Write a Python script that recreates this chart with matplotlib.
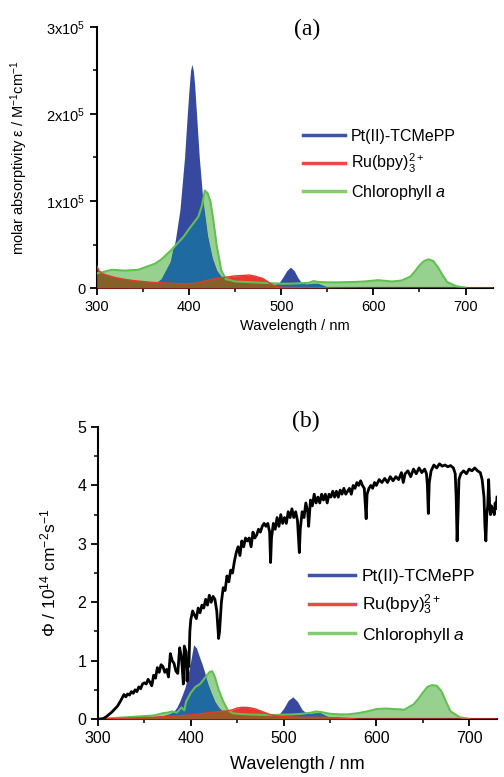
import matplotlib
matplotlib.use("Agg")
import matplotlib.pyplot as plt
from matplotlib.lines import Line2D
from matplotlib.ticker import MultipleLocator

plt.rcParams['font.family'] = ['Liberation Sans', 'DejaVu Sans']
plt.rcParams['mathtext.fontset'] = 'custom'
plt.rcParams['mathtext.rm'] = 'Liberation Sans'
plt.rcParams['mathtext.it'] = 'Liberation Sans:italic'
plt.rcParams['mathtext.default'] = 'regular'

# ---- panel (a): molar absorptivity, in units of 1e5 M^-1 cm^-1 ----
wl_pt_a = [300, 340, 360, 370, 380, 385, 390, 395, 398, 400, 401.5, 403, 404.5, 406, 408, 411,
           415, 420, 425, 430, 440, 450, 470, 490, 497, 502, 506, 510, 514, 518, 522, 527,
           535, 540, 545, 550, 560, 700]
pt_a = [0, 0, 0.02, 0.1, 0.3, 0.55, 0.9, 1.5, 2.0, 2.3, 2.5, 2.57, 2.5, 2.33, 2.0, 1.5,
        1.0, 0.6, 0.35, 0.2, 0.06, 0.03, 0.02, 0.02, 0.05, 0.13, 0.2, 0.24, 0.2, 0.12, 0.06, 0.04,
        0.05, 0.05, 0.03, 0.01, 0, 0]

wl_chl_a = [300, 305, 316, 330, 345, 350, 363, 370, 381, 394, 400, 405, 410, 414, 417, 420,
            423, 426, 430, 435, 440, 445, 450, 460, 470, 480, 490, 500, 510, 520, 530, 535,
            540, 550, 560, 580, 590, 600, 605, 610, 620, 630, 640, 645, 650, 655, 660, 665,
            670, 675, 680, 690, 700]
chl_a = [0.17, 0.18, 0.21, 0.2, 0.21, 0.23, 0.28, 0.33, 0.44, 0.59, 0.68, 0.75, 0.82, 0.95, 1.12, 1.09,
         1.0, 0.8, 0.48, 0.2, 0.1, 0.09, 0.075, 0.07, 0.065, 0.06, 0.055, 0.05, 0.05, 0.055, 0.06, 0.08,
         0.07, 0.065, 0.065, 0.07, 0.075, 0.085, 0.09, 0.085, 0.075, 0.085, 0.13, 0.19, 0.26, 0.31, 0.33, 0.31,
         0.24, 0.15, 0.07, 0.02, 0.005]

wl_ru_a = [300, 302, 305, 310, 320, 330, 340, 350, 360, 370, 380, 390, 400, 410, 420, 430,
           440, 450, 460, 465, 470, 480, 490, 495, 500, 510, 520, 540, 560, 580, 600, 730]
ru_a = [0.25, 0.2, 0.17, 0.15, 0.12, 0.1, 0.085, 0.075, 0.065, 0.06, 0.055, 0.05, 0.05, 0.06, 0.09, 0.11,
        0.125, 0.14, 0.145, 0.15, 0.14, 0.11, 0.04, 0.015, 0.008, 0.006, 0.005, 0.004, 0.002, 0.001, 0, 0]

# ---- panel (b): photon flux, in units of 1e14 cm^-2 s^-1 ----
wl_pt_b = [300, 320, 340, 360, 370, 375, 380, 385, 388, 391, 394, 397, 400, 403, 406, 409,
           412, 415, 418, 422, 426, 430, 435, 440, 450, 470, 490, 495, 500, 505, 510, 515,
           520, 525, 530, 535, 540, 545, 550, 560, 730]
pt_b = [0, 0.01, 0.02, 0.03, 0.05, 0.07, 0.1, 0.2, 0.3, 0.42, 0.55, 0.75, 1.0, 1.27, 1.22, 1.08,
        0.95, 0.8, 0.62, 0.45, 0.3, 0.2, 0.12, 0.08, 0.05, 0.04, 0.05, 0.08, 0.18, 0.32, 0.38, 0.3,
        0.16, 0.1, 0.09, 0.1, 0.1, 0.06, 0.02, 0, 0]

wl_chl_b = [300, 310, 320, 330, 340, 350, 360, 370, 375, 380, 385, 390, 393, 395, 400, 405,
            410, 415, 420, 423, 426, 430, 435, 440, 445, 450, 460, 470, 480, 490, 500, 510,
            520, 530, 535, 540, 550, 560, 570, 580, 590, 600, 610, 620, 630, 640, 645, 650,
            655, 660, 665, 670, 675, 680, 690, 700]
chl_b = [0, 0.01, 0.02, 0.03, 0.04, 0.05, 0.06, 0.1, 0.11, 0.13, 0.11, 0.2, 0.15, 0.3, 0.45, 0.55,
         0.6, 0.7, 0.8, 0.82, 0.72, 0.5, 0.3, 0.15, 0.1, 0.09, 0.08, 0.075, 0.07, 0.07, 0.075, 0.08,
         0.09, 0.11, 0.13, 0.12, 0.09, 0.08, 0.08, 0.1, 0.13, 0.17, 0.18, 0.17, 0.16, 0.25, 0.34, 0.45,
         0.55, 0.58, 0.57, 0.48, 0.3, 0.13, 0.03, 0.005]

wl_ru_b = [300, 320, 340, 360, 380, 400, 410, 420, 430, 440, 445, 450, 455, 460, 465, 470,
           475, 480, 485, 490, 500, 520, 540, 560, 570, 580, 730]
ru_b = [0, 0.01, 0.02, 0.03, 0.05, 0.07, 0.09, 0.11, 0.13, 0.14, 0.16, 0.19, 0.2, 0.2, 0.19, 0.17,
        0.14, 0.11, 0.08, 0.06, 0.04, 0.03, 0.03, 0.02, 0.01, 0, 0]

# solar photon flux (wavelength nm, value)
sun_points = [
    (300, 0.0), (303, 0.0), (306, 0.01), (309, 0.04), (312, 0.08), (315, 0.12), (318, 0.17),
    (321, 0.22), (324, 0.3), (326, 0.36), (328, 0.42), (330, 0.38), (332, 0.43), (334, 0.41),
    (336, 0.47), (338, 0.44), (340, 0.5), (342, 0.47), (344, 0.55), (346, 0.52), (348, 0.6),
    (350, 0.62), (352, 0.6), (354, 0.68), (356, 0.63), (358, 0.57), (360, 0.75), (362, 0.7),
    (364, 0.88), (366, 0.8), (368, 0.93), (370, 0.9), (372, 0.8), (374, 0.85), (376, 0.72),
    (378, 1.12), (380, 1.0), (382, 0.95), (384, 0.82), (386, 0.78), (388, 1.22), (390, 1.05),
    (392, 0.6), (393, 1.25), (395, 1.15), (396, 0.65), (397, 1.0), (398, 0.9), (399, 1.5),
    (400, 1.7), (402, 1.85), (404, 1.78), (406, 1.72), (408, 1.9), (410, 1.82), (412, 1.95),
    (414, 1.9), (416, 2.05), (418, 1.95), (420, 2.12), (422, 2.0), (424, 2.1), (426, 2.05),
    (428, 1.85), (430, 1.38), (431, 1.5), (433, 2.0), (435, 2.25), (437, 2.2), (439, 2.45),
    (441, 2.35), (443, 2.55), (445, 2.5), (447, 2.7), (449, 2.85), (451, 2.95), (453, 2.8),
    (455, 3.05), (457, 2.95), (459, 3.1), (461, 3.05), (463, 3.1), (465, 2.95), (467, 3.2),
    (469, 3.1), (471, 3.15), (473, 3.25), (475, 3.2), (477, 3.3), (479, 3.35), (481, 3.3),
    (483, 3.35), (485, 3.2), (486, 2.68), (487, 3.1), (489, 3.35), (491, 3.25), (493, 3.45),
    (495, 3.3), (497, 3.5), (499, 3.35), (501, 3.45), (503, 3.35), (505, 3.55), (507, 3.45),
    (509, 3.6), (511, 3.45), (513, 3.55), (515, 3.4), (517, 2.85), (518, 3.25), (520, 3.55),
    (522, 3.45), (524, 3.7), (526, 3.55), (527, 3.3), (529, 3.75), (531, 3.65), (533, 3.85),
    (535, 3.7), (537, 3.8), (539, 3.7), (541, 3.85), (543, 3.75), (545, 3.85), (547, 3.7),
    (549, 3.85), (551, 3.8), (553, 3.9), (555, 3.8), (557, 3.9), (559, 3.8), (561, 3.92),
    (563, 3.85), (565, 3.95), (567, 3.85), (569, 3.9), (571, 3.95), (573, 3.85), (575, 4.0),
    (577, 3.95), (579, 4.05), (581, 4.0), (583, 4.08), (585, 4.0), (587, 3.95), (589, 3.43),
    (590, 3.85), (592, 3.95), (594, 4.0), (596, 3.95), (598, 4.05), (600, 4.0), (603, 4.1),
    (606, 4.05), (609, 4.12), (612, 4.05), (615, 4.15), (618, 4.08), (621, 4.15), (624, 4.1),
    (627, 4.22), (629, 4.05), (631, 4.2), (634, 4.25), (637, 4.15), (640, 4.28), (643, 4.2),
    (646, 4.3), (649, 4.22), (652, 4.28), (654, 4.2), (655, 4.0), (656, 3.52), (657, 4.05),
    (659, 4.25), (662, 4.35), (665, 4.3), (668, 4.37), (671, 4.33), (674, 4.35), (677, 4.32),
    (680, 4.34), (683, 4.3), (685, 4.2), (686, 3.8), (687, 3.05), (688, 3.5), (689, 4.1),
    (691, 4.2), (694, 4.25), (697, 4.2), (700, 4.28), (703, 4.25), (706, 4.3), (709, 4.25),
    (712, 4.22), (714, 4.1), (716, 3.8), (717, 3.3), (718, 3.05), (719, 3.5), (720, 3.65),
    (721, 4.1), (722, 3.7), (723, 3.5), (724, 3.65), (725, 3.55), (726, 3.6), (727, 3.5),
    (728, 3.7), (729, 3.6), (730, 3.8),
]
wl_sun = [p[0] for p in sun_points]
sun = [p[1] for p in sun_points]

labels = ['Pt(II)-TCMePP', 'Ru(bpy)$_3^{2+}$', 'Chlorophyll $\\mathit{a}$']

C_BLUE = '#36499f'
C_TEAL = '#1f6aa0'
C_GREENFILL = '#97d190'
C_GREENLINE = '#62c052'
C_RED = '#e8382e'


def draw_panel(ax, wl_pt, pt, wl_chl, chl, wl_ru, ru, brown):
    ax.fill_between(wl_chl, chl, 0, color=C_GREENFILL, lw=0, zorder=1)
    pt_poly = ax.fill_between(wl_pt, pt, 0, color=C_BLUE, lw=0, zorder=2)
    # where chlorophyll overlaps the porphyrin band
    teal = ax.fill_between(wl_chl, chl, 0, color=C_TEAL, lw=0, zorder=3)
    teal.set_clip_path(pt_poly.get_paths()[0], pt_poly.get_transform())
    ru_poly = ax.fill_between(wl_ru, ru, 0, color=C_RED, lw=0, zorder=4)
    # chlorophyll over the Ru band
    br = ax.fill_between(wl_chl, chl, 0, color=brown, lw=0, zorder=5)
    br.set_clip_path(ru_poly.get_paths()[0], ru_poly.get_transform())
    ax.plot(wl_chl, chl, color=C_GREENLINE, lw=1.5, zorder=6)
    ax.plot(wl_ru, ru, color=C_RED, lw=1.0, zorder=6)

    ax.set_xlim(300, 730)
    ax.xaxis.set_major_locator(MultipleLocator(100))
    ax.xaxis.set_minor_locator(MultipleLocator(50))
    for s in ['top', 'right']:
        ax.spines[s].set_visible(False)
    for s in ['left', 'bottom']:
        ax.spines[s].set_linewidth(1.5)
    ax.tick_params(which='major', direction='out', length=5, width=1.3)
    ax.tick_params(which='minor', direction='out', length=3, width=1.1)


def add_legend(ax, fs, anchor, spacing):
    handles = [Line2D([], [], color='#3b55a8', lw=2.5),
               Line2D([], [], color='#ea4a42', lw=2.5),
               Line2D([], [], color='#84cc72', lw=2.5)]
    ax.legend(handles, labels, frameon=False, fontsize=fs, loc='upper left',
              bbox_to_anchor=anchor, handlelength=2.6, handletextpad=0.4,
              labelspacing=spacing, borderpad=0, borderaxespad=0)


fig = plt.figure(figsize=(5.04, 7.77), dpi=100)

# panel (a)
ax1 = fig.add_axes([0.1925, 0.6293, 0.786, 0.336])
draw_panel(ax1, wl_pt_a, pt_a, wl_chl_a, chl_a, wl_ru_a, ru_a, '#856028')
ax1.set_ylim(0, 3)
ax1.yaxis.set_major_locator(MultipleLocator(1))
ax1.yaxis.set_minor_locator(MultipleLocator(0.5))
ax1.set_yticks([0, 1, 2, 3])
ax1.set_yticklabels(['0', '1x10$^5$', '2x10$^5$', '3x10$^5$'])
ax1.tick_params(labelsize=10.5)
ax1.set_xlabel('Wavelength / nm', fontsize=10.5)
ax1.set_ylabel('molar absorptivity ε / M$^{-1}$cm$^{-1}$', fontsize=10.5)
ax1.yaxis.set_label_coords(-0.17, 0.5)
ax1.text(0.53, 0.99, '(a)', transform=ax1.transAxes, ha='center', va='center',
         fontsize=17, family='Liberation Serif')
add_legend(ax1, 11.5, (0.52, 0.61), 0.5)

# panel (b)
ax2 = fig.add_axes([0.1944, 0.0746, 0.7917, 0.3758])
draw_panel(ax2, wl_pt_b, pt_b, wl_chl_b, chl_b, wl_ru_b, ru_b, '#9c5a26')
ax2.plot(wl_sun, sun, color='black', lw=2.0, zorder=7)
ax2.set_ylim(0, 5)
ax2.yaxis.set_major_locator(MultipleLocator(1))
ax2.yaxis.set_minor_locator(MultipleLocator(0.5))
ax2.tick_params(labelsize=11.5)
ax2.set_xlabel('Wavelength / nm', fontsize=13, labelpad=7)
ax2.set_ylabel('Φ / 10$^{14}$ cm$^{-2}$s$^{-1}$', fontsize=12.5)
ax2.yaxis.set_label_coords(-0.10, 0.5)
ax2.text(0.52, 1.02, '(b)', transform=ax2.transAxes, ha='center', va='center',
         fontsize=17, family='Liberation Serif')
add_legend(ax2, 12.5, (0.53, 0.515), 0.5)

fig.savefig('out.png', dpi=100)
